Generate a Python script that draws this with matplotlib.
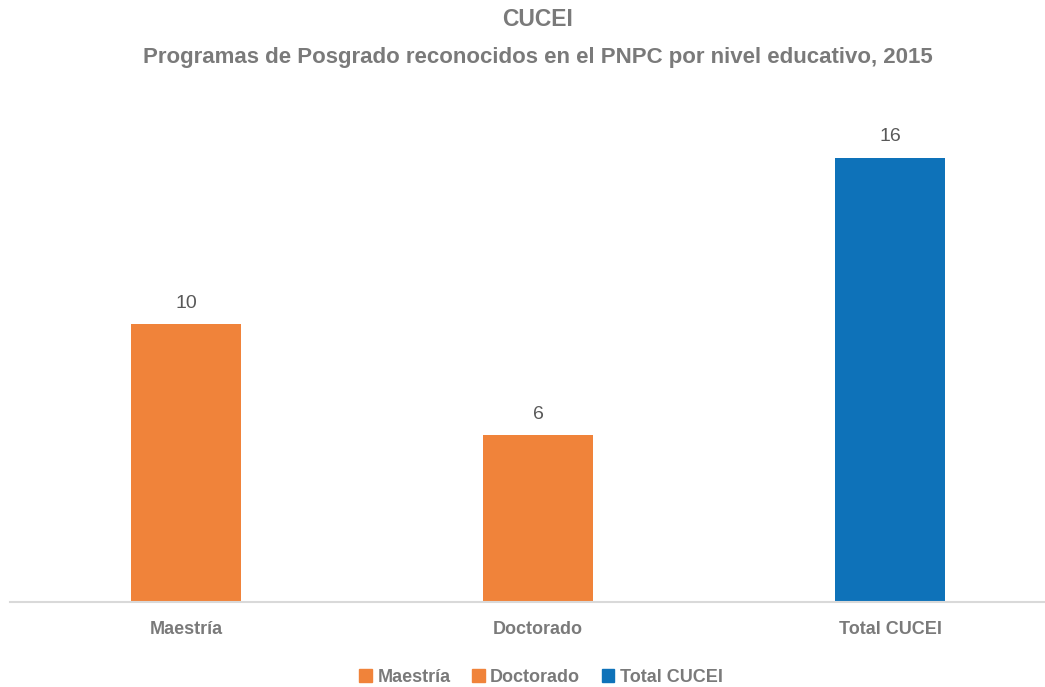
import matplotlib.pyplot as plt
from matplotlib.patches import Patch

categorias = ["Maestría", "Doctorado", "Total CUCEI"]
valores = [10, 6, 16]
colores = ["#F0833A", "#F0833A", "#0E72B9"]

plt.rcParams['font.family'] = ['Liberation Sans Narrow', 'Liberation Sans', 'DejaVu Sans']
gris = "#7A7A7A"

fig = plt.figure(figsize=(10.45, 6.87), dpi=100)
ax = fig.add_axes([10 / 1045, 85 / 687, 1056 / 1045, 500 / 687])

x = list(range(len(categorias)))
barras = ax.bar(x, valores, width=0.3125, color=colores)
for rect, v in zip(barras, valores):
    ax.annotate(str(v), xy=(rect.get_x() + rect.get_width() / 2, v),
                xytext=(0, 9), textcoords="offset points",
                ha="center", va="bottom", fontsize=14, color="#595959")

ax.set_xlim(-0.5, 2.5)
ax.set_ylim(0, 18)
ax.set_xticks(x)
ax.set_xticklabels(categorias, fontsize=13, fontweight="bold", color=gris)
ax.tick_params(axis="x", length=0, pad=14)
ax.set_yticks([])
for s in ["top", "right", "left"]:
    ax.spines[s].set_visible(False)
ax.spines["bottom"].set_color("#D9D9D9")
ax.spines["bottom"].set_linewidth(1.5)

fig.text(538 / 1045, 1 - 19 / 687, "CUCEI", ha="center", va="center",
         fontsize=16.5, fontweight="bold", color=gris)
fig.text(538 / 1045, 1 - 57 / 687,
         "Programas de Posgrado reconocidos en el PNPC por nivel educativo, 2015",
         ha="center", va="center", fontsize=16, fontweight="bold", color=gris)

handles = [Patch(color=c) for c in colores]
fig.legend(handles, categorias, loc="center", bbox_to_anchor=(541 / 1045, 1 - 677 / 687),
           ncol=3, frameon=False, handlelength=0.7, handleheight=0.7, handletextpad=0.3,
           columnspacing=1.2, prop={"size": 13, "weight": "bold"}, labelcolor=gris)

fig.savefig("out.png", dpi=100)
